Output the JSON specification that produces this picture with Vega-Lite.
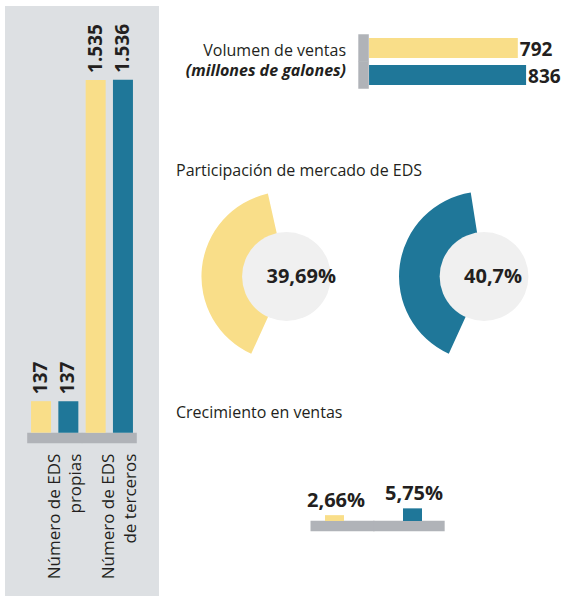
{
  "$schema": "https://vega.github.io/schema/vega-lite/v6.json",
  "padding": {"left": 5, "top": 6, "right": 0, "bottom": 0},
  "background": "white",
  "bounds": "flush",
  "spacing": 17,
  "config": {
    "font": "Open Sans",
    "view": {"stroke": null},
    "locale": {"number": {"decimal": ",", "thousands": ".", "grouping": [3], "currency": ["$", ""]}},
    "title": {"font": "Open Sans", "fontSize": 16, "fontWeight": "normal", "color": "#231f20", "anchor": "start", "baseline": "alphabetic"},
    "text": {"color": "#231f20", "font": "Open Sans"}
  },
  "hconcat": [
    {
      "width": 154,
      "height": 590,
      "view": {"fill": "#dde0e3", "stroke": null},
      "data": {"values": [
        {"grupo": "propias", "serie": "A", "valor": 137},
        {"grupo": "propias", "serie": "B", "valor": 137},
        {"grupo": "terceros", "serie": "A", "valor": 1535},
        {"grupo": "terceros", "serie": "B", "valor": 1536}
      ]},
      "layer": [
        {
          "data": {"values": [
            {"grupo": "propias", "etiqueta": "Número de EDS\npropias"},
            {"grupo": "terceros", "etiqueta": "Número de EDS\nde terceros"}
          ]},
          "layer": [
            {
              "mark": {"type": "tick", "color": "#b0b3b8", "opacity": 1, "size": 55, "thickness": 10.5, "yOffset": 5.3},
              "encoding": {
                "x": {"field": "grupo", "type": "nominal", "scale": {"domain": ["propias", "terceros"], "paddingInner": 0, "paddingOuter": 0.41}, "axis": null},
                "y": {"datum": 0, "type": "quantitative"}
              }
            },
            {
              "mark": {"type": "text", "angle": 270, "align": "right", "baseline": "middle", "dx": -21, "fontSize": 17, "lineHeight": 21.5, "lineBreak": "\n"},
              "encoding": {
                "x": {"field": "grupo", "type": "nominal"},
                "y": {"datum": 0, "type": "quantitative"},
                "text": {"field": "etiqueta", "type": "nominal"}
              }
            }
          ]
        },
        {
          "transform": [{"filter": "datum.serie == 'A'"}],
          "layer": [
            {
              "mark": {"type": "bar", "width": 20, "xOffset": -13.65},
              "encoding": {
                "x": {"field": "grupo", "type": "nominal"},
                "y": {"field": "valor", "type": "quantitative", "scale": {"domain": [-711, 1857], "nice": false, "zero": false}, "axis": null},
                "color": {"field": "serie", "type": "nominal", "scale": {"domain": ["A", "B"], "range": ["#f9de89", "#1f7799"]}, "legend": null}
              }
            },
            {
              "mark": {"type": "text", "angle": 270, "align": "left", "baseline": "middle", "dx": 7, "xOffset": -13.65, "fontSize": 19, "fontWeight": "bold"},
              "encoding": {
                "x": {"field": "grupo", "type": "nominal"},
                "y": {"field": "valor", "type": "quantitative"},
                "text": {"field": "valor", "type": "quantitative", "format": ",d"}
              }
            }
          ]
        },
        {
          "transform": [{"filter": "datum.serie == 'B'"}],
          "layer": [
            {
              "mark": {"type": "bar", "width": 20, "xOffset": 13.65},
              "encoding": {
                "x": {"field": "grupo", "type": "nominal"},
                "y": {"field": "valor", "type": "quantitative"},
                "color": {"field": "serie", "type": "nominal", "legend": null}
              }
            },
            {
              "mark": {"type": "text", "angle": 270, "align": "left", "baseline": "middle", "dx": 7, "xOffset": 13.65, "fontSize": 19, "fontWeight": "bold"},
              "encoding": {
                "x": {"field": "grupo", "type": "nominal"},
                "y": {"field": "valor", "type": "quantitative"},
                "text": {"field": "valor", "type": "quantitative", "format": ",d"}
              }
            }
          ]
        }
      ]
    },
    {
      "spacing": 106.5,
      "bounds": "flush",
      "vconcat": [
        {
          "width": 373,
          "height": 79,
          "data": {"values": [
            {"serie": "A", "valor": 792},
            {"serie": "B", "valor": 836}
          ]},
          "layer": [
            {
              "mark": {"type": "tick", "color": "#b0b3b8", "opacity": 1, "size": 27.5, "thickness": 10.5, "xOffset": -5.5},
              "encoding": {
                "x": {"datum": 0, "type": "quantitative", "scale": {"domain": [-1027.7, 958], "nice": false, "zero": false}, "axis": null},
                "y": {"field": "serie", "type": "nominal", "scale": {"domain": ["A", "B"], "paddingInner": 0.26, "paddingOuter": 0.593, "align": 1}, "axis": null}
              }
            },
            {
              "mark": {"type": "bar"},
              "encoding": {
                "x": {"field": "valor", "type": "quantitative"},
                "y": {"field": "serie", "type": "nominal"},
                "color": {"field": "serie", "type": "nominal", "scale": {"domain": ["A", "B"], "range": ["#f9de89", "#1f7799"]}, "legend": null}
              }
            },
            {
              "mark": {"type": "text", "align": "left", "baseline": "middle", "dx": 2, "dy": 2, "fontSize": 19, "fontWeight": "bold"},
              "encoding": {
                "x": {"field": "valor", "type": "quantitative"},
                "y": {"field": "serie", "type": "nominal"},
                "text": {"field": "valor", "type": "quantitative", "format": ",d"}
              }
            },
            {
              "transform": [{"filter": "datum.serie == 'A'"}],
              "mark": {"type": "text", "align": "right", "baseline": "middle", "dx": -23, "dy": 3, "fontSize": 16, "text": "Volumen de ventas"},
              "encoding": {
                "x": {"datum": 0, "type": "quantitative"},
                "y": {"field": "serie", "type": "nominal"}
              }
            },
            {
              "transform": [{"filter": "datum.serie == 'B'"}],
              "mark": {"type": "text", "align": "right", "baseline": "middle", "dx": -23, "dy": -4, "fontSize": 16, "fontStyle": "italic", "fontWeight": "bold", "text": "(millones de galones)"},
              "encoding": {
                "x": {"datum": 0, "type": "quantitative"},
                "y": {"field": "serie", "type": "nominal"}
              }
            }
          ]
        },
        {
          "width": 390,
          "height": 170,
          "title": {"text": "Participación de mercado de EDS", "offset": 13},
          "data": {"values": [
            {"serie": "A", "valor": 0.3969},
            {"serie": "B", "valor": 0.407}
          ]},
          "layer": [
            {
              "transform": [{"stack": "valor", "groupby": ["serie"], "as": ["ini", "fin"]}],
              "mark": {"type": "arc", "outerRadius": 85, "innerRadius": 38},
              "encoding": {
                "x": {"field": "serie", "type": "nominal", "scale": {"type": "point", "domain": ["A", "B"], "padding": 0.487, "align": 0.574}, "axis": null},
                "theta": {"field": "ini", "type": "quantitative", "scale": {"domain": [0, 1], "range": [3.569, 9.852]}},
                "theta2": {"field": "fin"},
                "color": {"field": "serie", "type": "nominal", "scale": {"domain": ["A", "B"], "range": ["#f9de89", "#1f7799"]}, "legend": null}
              }
            },
            {
              "mark": {"type": "point", "shape": "circle", "filled": true, "size": 7880, "color": "#f0f0f0", "opacity": 1, "strokeWidth": 0},
              "encoding": {
                "x": {"field": "serie", "type": "nominal"}
              }
            },
            {
              "mark": {"type": "text", "align": "left", "baseline": "middle", "dx": -20, "fontSize": 20, "fontWeight": "bold"},
              "encoding": {
                "x": {"field": "serie", "type": "nominal"},
                "text": {"field": "valor", "type": "quantitative", "format": ".2~%"}
              }
            }
          ]
        },
        {
          "width": 300,
          "height": 53,
          "title": {"text": "Crecimiento en ventas", "offset": 47},
          "data": {"values": [
            {"serie": "A", "valor": 0.0266},
            {"serie": "B", "valor": 0.0575}
          ]},
          "layer": [
            {
              "transform": [{"filter": "datum.serie == 'A'"}],
              "mark": {"type": "tick", "color": "#b0b3b8", "opacity": 1, "size": 64, "thickness": 10.5, "xOffset": 8, "yOffset": 5},
              "encoding": {
                "x": {"field": "serie", "type": "nominal", "scale": {"domain": ["A", "B"], "paddingInner": 0, "paddingOuter": 0.923, "align": 0.83}, "axis": null},
                "y": {"datum": 0, "type": "quantitative", "scale": {"domain": [0, 0.241], "nice": false}, "axis": null}
              }
            },
            {
              "transform": [{"filter": "datum.serie == 'B'"}],
              "mark": {"type": "tick", "color": "#b0b3b8", "opacity": 1, "size": 71.5, "thickness": 10.5, "xOffset": -3.6, "yOffset": 5},
              "encoding": {
                "x": {"field": "serie", "type": "nominal"},
                "y": {"datum": 0, "type": "quantitative"}
              }
            },
            {
              "mark": {"type": "bar", "width": 19},
              "encoding": {
                "x": {"field": "serie", "type": "nominal"},
                "y": {"field": "valor", "type": "quantitative"},
                "color": {"field": "serie", "type": "nominal", "scale": {"domain": ["A", "B"], "range": ["#f9de89", "#1f7799"]}, "legend": null}
              }
            },
            {
              "mark": {"type": "text", "align": "center", "baseline": "alphabetic", "dx": 1.5, "dy": -8, "fontSize": 20, "fontWeight": "bold"},
              "encoding": {
                "x": {"field": "serie", "type": "nominal"},
                "y": {"field": "valor", "type": "quantitative"},
                "text": {"field": "valor", "type": "quantitative", "format": ".2~%"}
              }
            }
          ]
        }
      ]
    }
  ]
}
